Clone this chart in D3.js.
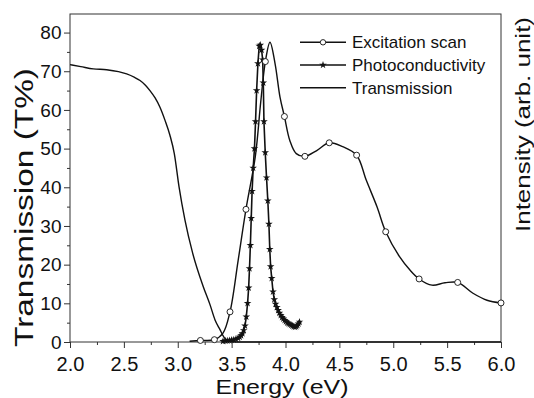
<!DOCTYPE html>
<html>
<head>
<meta charset="utf-8">
<script src="https://cdn.jsdelivr.net/npm/d3@7"></script>
<style>
  body { margin: 0; background: #fff; }
  svg { display: block; font-family: Arial, "Liberation Sans", sans-serif; }
  .axis text { fill: #111; }
  .axis line { stroke: #333; }
</style>
</head>
<body>
<svg id="chart" width="534" height="398"></svg>
<script>
// transmission spectrum (T%)
const transEnergy = [2.00, 2.10, 2.216, 2.34, 2.45, 2.526, 2.60, 2.65, 2.70, 2.742, 2.79, 2.835, 2.882, 2.928, 2.968, 3.012, 3.067, 3.139, 3.237, 3.30, 3.346, 3.392, 3.43, 3.47, 3.55, 6.00];
const transValue  = [71.7, 71.2, 70.6, 70.4, 69.9, 69.3, 68.4, 67.6, 66.4, 65.0, 63.1, 60.7, 57.3, 53.4, 48.7, 40.1, 31.5, 22.9, 14.3, 9.6, 5.7, 3.2, 1.2, 0.3, 0, 0];

// excitation scan: measured points (circles)
const excEnergy = [3.21, 3.34, 3.485, 3.633, 3.813, 3.99, 4.18, 4.406, 4.66, 4.93, 5.24, 5.598, 6.0];
const excValue  = [0.4, 0.6, 7.8, 34.3, 72.5, 58.3, 48.0, 51.5, 48.3, 28.5, 16.3, 15.4, 10.1];

// excitation scan: traced smooth curve
const excCurveEnergy = [3.11, 3.21, 3.34, 3.42, 3.485, 3.56, 3.633, 3.72, 3.77, 3.813, 3.856, 3.903, 3.949, 3.99, 4.04, 4.10, 4.18, 4.29, 4.406, 4.53, 4.66, 4.75, 4.85, 4.93, 5.06, 5.155, 5.24, 5.36, 5.48, 5.598, 5.74, 5.87, 6.0];
const excCurveValue  = [0.2, 0.4, 0.6, 2.3, 7.8, 21, 34.3, 48, 62, 72.5, 77.5, 72, 63.3, 58.3, 52.1, 48.7, 48.0, 49.5, 51.5, 50.5, 48.3, 41.8, 34.9, 28.5, 22, 18.6, 16.3, 14.7, 15.3, 15.4, 12.6, 10.8, 10.1];

// photoconductivity (stars)
const pcEnergy = [3.42, 3.44, 3.46, 3.48, 3.50, 3.52, 3.54, 3.56, 3.575, 3.588, 3.600, 3.612, 3.624, 3.636, 3.648, 3.658, 3.666, 3.674, 3.682, 3.690, 3.700, 3.712, 3.722, 3.732, 3.744, 3.756, 3.766, 3.778, 3.788, 3.794, 3.800, 3.812, 3.824, 3.836, 3.846, 3.854, 3.862, 3.872, 3.884, 3.896, 3.908, 3.920, 3.932, 3.944, 3.956, 3.968, 3.980, 3.992, 4.004, 4.016, 4.028, 4.040, 4.052, 4.064, 4.076, 4.088, 4.100, 4.110, 4.120, 4.130];
const pcValue  = [0.2, 0.3, 0.3, 0.4, 0.5, 0.6, 0.8, 1.0, 1.3, 1.7, 2.2, 3.0, 4.2, 6.5, 10, 14, 19, 25, 32, 39, 45, 50, 57, 65, 72, 76.5, 76.8, 75.5, 73, 67, 57, 49, 42.5, 36.5, 30.5, 24, 19.5, 16.5, 13, 11, 9.8, 9.0, 8.2, 7.5, 6.9, 6.4, 6.0, 5.6, 5.3, 5.0, 4.8, 4.6, 4.4, 4.2, 4.0, 3.9, 4.0, 4.3, 4.7, 5.2];

const xTicks = [2.0, 2.5, 3.0, 3.5, 4.0, 4.5, 5.0, 5.5, 6.0];
const xMinorTicks = [2.25, 2.75, 3.25, 3.75, 4.25, 4.75, 5.25, 5.75];
const yTicks = [0, 10, 20, 30, 40, 50, 60, 70, 80];
const yMinorTicks = [5, 15, 25, 35, 45, 55, 65, 75];

const legendItems = ["Excitation scan", "Photoconductivity", "Transmission"];

const svg = d3.select("#chart");
const plotLeft = 70, plotRight = 501, plotTop = 14, plotBottom = 342;

const x = d3.scaleLinear().domain([2, 6]).range([plotLeft, plotRight]);
const y = d3.scaleLinear().domain([0, 84.8]).range([plotBottom, plotTop]);

// axes
const gx = svg.append("g").attr("class", "axis")
    .attr("transform", "translate(0," + plotBottom + ")")
    .call(d3.axisBottom(x).tickValues(xTicks).tickFormat(d3.format(".1f")).tickSize(6).tickPadding(9));
gx.selectAll("text").attr("font-size", 20).attr("font-family", null);

svg.append("g").attr("class", "axis")
    .attr("transform", "translate(0," + plotBottom + ")")
    .call(d3.axisBottom(x).tickValues(xMinorTicks).tickFormat("").tickSize(3));

const gy = svg.append("g").attr("class", "axis")
    .attr("transform", "translate(" + plotLeft + ",0)")
    .call(d3.axisLeft(y).tickValues(yTicks).tickSize(6).tickPadding(2.5));
gy.selectAll("text").attr("font-size", 19).attr("font-family", null);

svg.append("g").attr("class", "axis")
    .attr("transform", "translate(" + plotLeft + ",0)")
    .call(d3.axisLeft(y).tickValues(yMinorTicks).tickFormat("").tickSize(3));

svg.selectAll(".axis .domain").remove();

svg.append("rect")
    .attr("x", plotLeft).attr("y", plotTop)
    .attr("width", plotRight - plotLeft).attr("height", plotBottom - plotTop)
    .attr("fill", "none").attr("stroke", "#333").attr("stroke-width", 1);

// axis titles
svg.append("text")
    .attr("x", 282).attr("y", 394)
    .attr("text-anchor", "middle")
    .attr("font-size", 21).attr("fill", "#111")
    .attr("textLength", 133).attr("lengthAdjust", "spacingAndGlyphs")
    .text("Energy (eV)");

svg.append("text")
    .attr("transform", "translate(33,207.5) rotate(-90)")
    .attr("text-anchor", "middle")
    .attr("font-size", 25).attr("fill", "#111")
    .attr("textLength", 279).attr("lengthAdjust", "spacingAndGlyphs")
    .text("Transmission (T%)");

svg.append("text")
    .attr("transform", "translate(530,124.5) rotate(-90)")
    .attr("text-anchor", "middle")
    .attr("font-size", 21).attr("fill", "#111")
    .attr("textLength", 215).attr("lengthAdjust", "spacingAndGlyphs")
    .text("Intensity (arb. unit)");

// lines
const plot = svg.append("g");

const transData = transEnergy.map((e, i) => [e, transValue[i]]);
const excCurve = excCurveEnergy.map((e, i) => [e, excCurveValue[i]]);
const excPts = excEnergy.map((e, i) => [e, excValue[i]]);
const pcData = pcEnergy.map((e, i) => [e, pcValue[i]]);

const line = (curve) => d3.line().x(d => x(d[0])).y(d => y(d[1])).curve(curve);

plot.append("path")
    .attr("d", line(d3.curveMonotoneX)(transData))
    .attr("fill", "none").attr("stroke", "#111").attr("stroke-width", 1.4);

plot.append("path")
    .attr("d", line(d3.curveCatmullRom)(excCurve))
    .attr("fill", "none").attr("stroke", "#111").attr("stroke-width", 1.4);

plot.append("path")
    .attr("d", line(d3.curveLinear)(pcData))
    .attr("fill", "none").attr("stroke", "#111").attr("stroke-width", 1.6);

const star = d3.symbol().type(d3.symbolStar).size(18);

plot.append("g")
    .selectAll("path")
    .data(pcData)
    .enter()
    .append("path")
    .attr("d", star)
    .attr("transform", d => "translate(" + x(d[0]) + "," + y(d[1]) + ")")
    .attr("fill", "#111");

plot.append("g")
    .selectAll("circle")
    .data(excPts)
    .enter()
    .append("circle")
    .attr("cx", d => x(d[0]))
    .attr("cy", d => y(d[1]))
    .attr("r", 3)
    .attr("fill", "#fff")
    .attr("stroke", "#111")
    .attr("stroke-width", 0.9);

// legend
const legend = svg.append("g");
const rowY = [42.3, 65, 87.7];

legend.selectAll("line")
    .data(legendItems)
    .enter()
    .append("line")
    .attr("x1", 300).attr("x2", 346)
    .attr("y1", (d, i) => rowY[i]).attr("y2", (d, i) => rowY[i])
    .attr("stroke", "#111").attr("stroke-width", 1.4);

legend.append("circle")
    .attr("cx", 323).attr("cy", rowY[0]).attr("r", 2.7)
    .attr("fill", "#fff").attr("stroke", "#111").attr("stroke-width", 0.9);

legend.append("path")
    .attr("d", star)
    .attr("transform", "translate(323," + rowY[1] + ")")
    .attr("fill", "#111");

legend.selectAll("text")
    .data(legendItems)
    .enter()
    .append("text")
    .attr("x", 352)
    .attr("y", (d, i) => rowY[i] + 6)
    .attr("font-size", 17).attr("fill", "#111")
    .text(d => d);
</script>
</body>
</html>
